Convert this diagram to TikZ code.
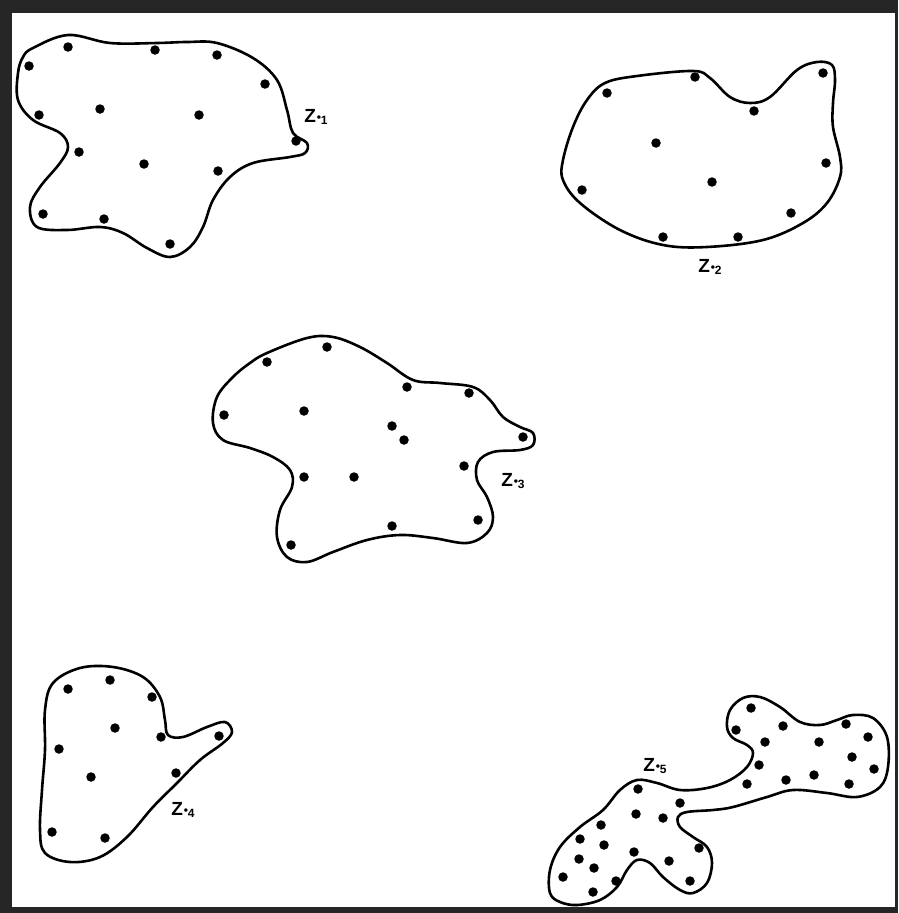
\documentclass[tikz,border=0pt]{standalone}
\usepackage{fontspec}
\setmainfont{Liberation Sans}
\newcommand{\zlab}[1]{Z\kern0.8pt{\fontsize{12}{12}\selectfont\raisebox{0.15ex}{\textbullet}\kern-0.2pt\raisebox{-0.3ex}{#1}}}
\begin{document}
\begin{tikzpicture}[x=1pt,y=-1pt,
  blob/.style={line width=2.6pt, line join=round},
  pt/.style={circle, fill=black, inner sep=0pt, minimum size=9.5pt},
  zlabel/.style={font=\fontsize{19}{19}\selectfont\bfseries, inner sep=0pt},
  smoothblob/.style={smooth cycle, tension=0.6}]
\useasboundingbox (0,0) rectangle (898,913);
% frame
\fill[black!85] (0,0) rectangle (898,913);
\fill[white] (12,13) rectangle (895,907);

% ---- blob 1
\draw[blob] plot[smoothblob] coordinates {
 (33,48) (68,35) (110,43) (157,43) (187,42) (217,43) (253,58) (277,80)
 (287,110) (293,133) (307,143) (305,153) (290,157) (253,163) (230,177)
 (213,200) (203,227) (190,247) (170,257) (147,248) (123,233) (100,227)
 (67,230) (37,227) (30,207) (40,187) (60,163) (68,147) (60,133) (33,120)
 (18,100) (18,73) (23,57)};
\foreach \p [count=\i] in {(68,47),(29,66),(155,50),(217,55),(265,84),(100,109),
 (39,115),(199,115),(79,152),(144,164),(218,171),(296,141),(43,214),(104,219),(170,244)}
 \node[pt] (a\i) at \p {};
\node[zlabel] (z1) at (316,117) {\zlab{1}};

% ---- blob 2
\draw[blob] plot[smoothblob] coordinates {
 (605,83) (637,76) (693,71) (710,78) (730,97) (750,103) (770,97) (797,70)
 (817,62) (832,65) (835,80) (833,103) (833,127) (840,157) (840,177) (827,203)
 (803,223) (763,240) (707,247) (663,245) (620,230) (580,203) (563,180)
 (563,160) (573,127) (587,100)};
\foreach \p [count=\i] in {(607,93),(695,77),(823,73),(754,111),(656,143),(712,182),
 (826,163),(582,190),(791,213),(663,237),(738,237)}
 \node[pt] (b\i) at \p {};
\node[zlabel] (z2) at (710,267) {\zlab{2}};

% ---- blob 3
\draw[blob] plot[smoothblob] coordinates {
 (267,353) (307,338) (333,337) (360,347) (387,363) (413,380) (440,383)
 (473,387) (490,400) (503,417) (520,427) (533,433) (533,445) (520,450)
 (493,452) (478,462) (477,480) (487,497) (493,517) (487,533) (467,543)
 (433,538) (400,535) (367,540) (333,552) (307,562) (287,557) (277,537)
 (280,510) (292,487) (290,470) (273,457) (250,448) (223,440) (213,423)
 (217,397) (233,377) (250,363)};
\foreach \p [count=\i] in {(267,362),(327,347),(224,415),(304,411),(407,387),(469,393),
 (392,426),(404,440),(523,437),(464,466),(304,477),(354,477),(478,520),(392,526),(291,545)}
 \node[pt] (c\i) at \p {};
\node[zlabel] (z3) at (513,481) {\zlab{3}};

% ---- blob 4
\draw[blob] plot[smoothblob] coordinates {
 (53,683) (80,668) (113,667) (143,677) (160,697) (165,720) (168,735)
 (183,737) (207,727) (225,722) (232,732) (223,743) (200,760) (177,783)
 (153,807) (127,837) (100,857) (70,862) (45,853) (40,830) (42,790)
 (45,750) (45,710)};
\foreach \p [count=\i] in {(68,689),(110,680),(152,697),(115,728),(161,737),(219,736),
 (59,749),(91,777),(176,773),(52,832),(105,838)}
 \node[pt] (e\i) at \p {};
\node[zlabel] (z4) at (183,810) {\zlab{4}};

% ---- blob 5
\draw[blob] plot[smoothblob] coordinates {
 (550,893) (550,870) (560,847) (580,827) (603,810) (620,790) (637,780)
 (657,783) (680,790) (707,788) (730,780) (747,767) (753,753) (747,745)
 (733,738) (727,727) (730,710) (743,698) (760,697) (780,707) (800,722)
 (820,725) (837,720) (853,715) (873,718) (887,737) (888,767) (880,787)
 (857,797) (827,793) (793,790) (767,797) (733,807) (713,810) (687,812)
 (678,817) (680,827) (693,837) (707,847) (712,863) (707,883) (693,893)
 (680,890) (663,877) (650,863) (637,860) (627,870) (617,887) (600,900)
 (577,905) (560,902)};
\foreach \p [count=\i] in {(751,708),(736,730),(783,726),(846,724),(868,737),(765,742),
 (819,742),(852,757),(874,769),(759,765),(814,775),(786,780),(747,784),(849,784),
 (638,789),(680,803),(636,814),(663,818),(601,825),(580,839),(604,845),(699,848),
 (634,852),(579,859),(669,861),(594,868),(563,877),(616,881),(690,881),(593,892)}
 \node[pt] (f\i) at \p {};
\node[zlabel] (z5) at (655,766) {\zlab{5}};
\end{tikzpicture}
\end{document}
